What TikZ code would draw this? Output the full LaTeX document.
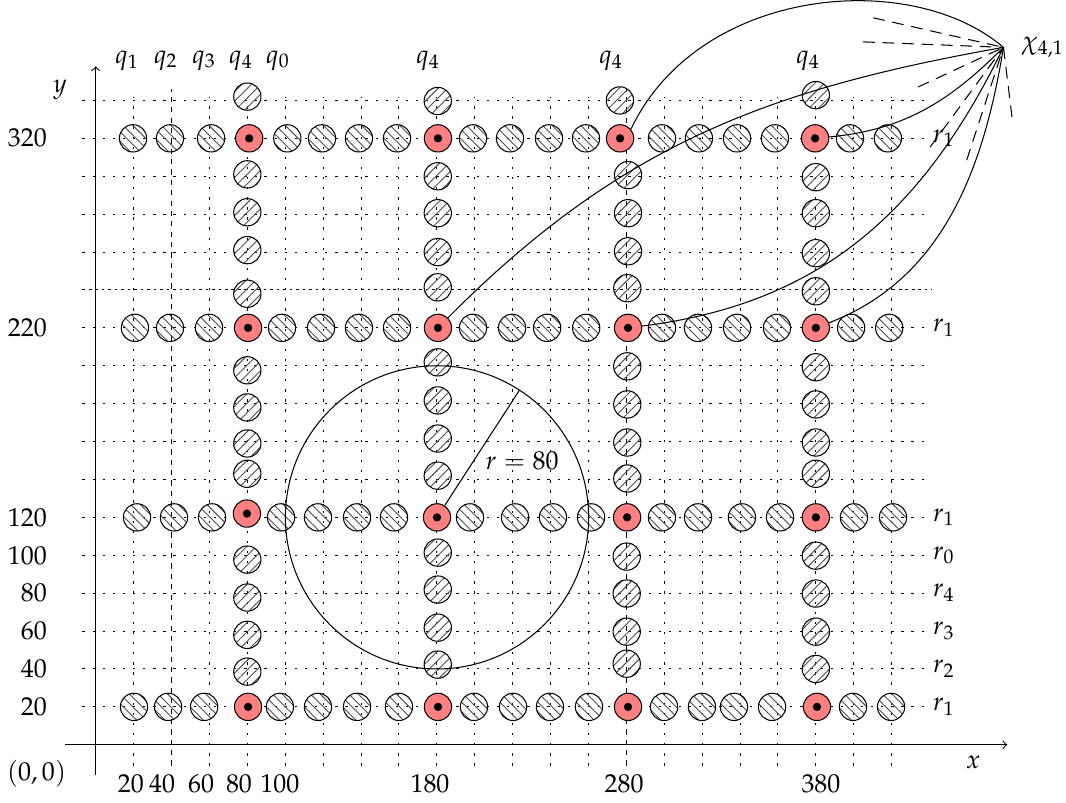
\documentclass[tikz,border=0pt]{standalone}
\usepackage{mathpazo}
\usepackage{xcolor}
\usepackage{tikz}
\usetikzlibrary{patterns.meta}
\definecolor{hubred}{HTML}{FF8080}

\begin{document}
\begin{tikzpicture}[x=0.0257cm,y=0.0257cm,
grid/.style={dash pattern=on 0.9pt off 3pt},
gridd/.style={dash pattern=on 2pt off 2pt},
gridt/.style={dash pattern=on 1pt off 1.5pt},
rowc/.style={circle,draw,inner sep=0pt,minimum size=3.7mm,pattern={Lines[angle=-45,distance=2.6pt,line width=0.35pt]},pattern color=black!70},
colc/.style={circle,draw,inner sep=0pt,minimum size=3.7mm,pattern={Lines[angle=45,distance=2.6pt,line width=0.35pt]},pattern color=black!70},
hub/.style={circle,draw,inner sep=0pt,minimum size=3.7mm,fill=hubred},
link/.style={line width=0.4pt},
hint/.style={dash pattern=on 4.5pt off 3pt}
]
\useasboundingbox (-50.5,-30.6) rectangle (512,393);
% grid
\foreach \gx in {20,60,80,100,120,140,160,180,200,220,240,260,300,320,340,360,380,400,420}
  \draw[grid] (\gx,-11) -- (\gx,342);
\foreach \gx in {40,280}
  \draw[gridd] (\gx,-11) -- (\gx,346);
\foreach \gy in {20,40,60,80,100,120,140,160,180,200,220,260,280,300,320,340}
  \draw[grid] (-7,\gy) -- (441,\gy);
\draw[gridt] (-7,240) -- (441,240);
% axes
\draw[->] (-16,0) -- (481,0);
\draw[->] (0,-16) -- (0,358);
\node at (-18.8,345.7) {$y$};
\node at (463,-9.5) {$x$};
\node at (-31.2,-15.3) {$(0,0)$};
\foreach \ty in {20,40,60,80,100,120,220,320}
  \node[anchor=east] at (-21,\ty) {$\ty$};
\foreach \tx/\tl in {18.6/20,35/40,55.6/60,75.6/80,97.2/100,176.4/180,278.8/280,382.7/380}
  \node at (\tx,-20.6) {$\tl$};
\foreach \qx/\ql in {16.6/q_1,37/q_2,57.2/q_3,76.7/q_4,96.2/q_0,175.4/q_4,272/q_4,375.9/q_4}
  \node at (\qx,361) {$\ql$};
\foreach \ry/\rl in {320/r_1,220/r_1,120/r_1,100/r_0,80/r_4,60/r_3,40/r_2,20/r_1}
  \node[anchor=west] at (437,\ry) {$\rl$};
% rows
\foreach \cx in {19.7,39.2,60.9,101.1,119.4,138.9,159,199.1,218.6,239.2,258.7,298.8,318.3,338.4,358.4,398,418}
  \node[rowc] at (\cx,320) {};
\foreach \cx in {20.7,39.2,59.8,98.3,118.9,138.9,159,199.1,219.7,238.2,258.8,298.8,317.8,338.4,359.5,398.6,418.7}
  \node[rowc] at (\cx,220) {};
\foreach \cx in {21.8,41.3,61.4,97.8,117.3,137.9,157.4,197.5,221.3,241.3,261.4,298.8,317.8,341,361.1,400.1,420.7}
  \node[rowc] at (\cx,120) {};
\foreach \cx in {20.2,38.2,57.2,97.2,117.3,137.9,160,199.6,220.2,239.7,260.3,299.9,319.9,336.8,356.9,399.6,419.7}
  \node[rowc] at (\cx,20) {};
% columns
\foreach \cy in {342,301,281,261,238,197.6,178,159,143,97.7,77.7,58,38.6}
  \node[colc] at (80,\cy) {};
\foreach \cy in {339.7,300,280.5,260,241.4,201.8,181.7,161.6,142,101.4,81.9,61.8,42.3}
  \node[colc] at (180.5,\cy) {};
\foreach \cx/\cy in {276.6/340,280.9/300.6,280.9/280.5,280.9/260.4,280.5/240.9,280.5/199.7,280.5/179.6,280.5/159.5,280.5/140.5,280.2/99.3,280.2/79.8,280.2/59.7,280.2/42.8}
  \node[colc] at (\cx,\cy) {};
\foreach \cy in {342.8,299.5,280.5,259.4,239.3,199.2,179.6,159.5,143,99.8,79.8,59.7,40}
  \node[colc] at (380,\cy) {};
% hubs
\foreach \hx/\hy/\hn in {81/320/80-320,180.6/320/180-320,276.7/320/280-320,379.6/320/380-320,
  80.4/220/80-220,180.6/220/180-220,280.9/220/280-220,380/220/380-220,
  79.8/122/80-120,180.1/120/180-120,280.4/120/280-120,380/120/380-120,
  80.4/20/80-20,180.6/20/180-20,280.9/20/280-20,380.6/20/380-20}{
  \node[hub] (h\hn) at (\hx,\hy) {};
  \fill (\hx,\hy) circle (2.2);
}
% range circle
\draw (h180-120.center) circle (80);
\coordinate (rim) at (223.6,187.1);
\draw (h180-120) -- (rim);
\node at (225,150) {$r=80$};
% links to chi
\coordinate (chi) at (479,368);
\node[anchor=west] at (483.8,368) {$\chi_{4,1}$};
\draw[link] (h280-320.40) .. controls (318,400) and (430,410) .. (chi);
\draw[link] (h180-220) .. controls (275.8,315.8) and (353.3,345.8) .. (chi);
\draw[link] (h380-320) .. controls (427,324.5) and (450.6,339.6) .. (chi);
\draw[link] (h280-220) .. controls (381.8,232.7) and (436,280) .. (chi);
\draw[link] (h380-220) .. controls (445,245) and (468,300) .. (chi);
\foreach \dx/\dy in {410.3/383.6,405/370.9,434/347.1,440.3/315.4,459.6/308.5,483.5/331.2}{
  \coordinate (tail) at (\dx,\dy);
  \draw[hint] (tail) -- (chi);
}
\end{tikzpicture}
\end{document}
